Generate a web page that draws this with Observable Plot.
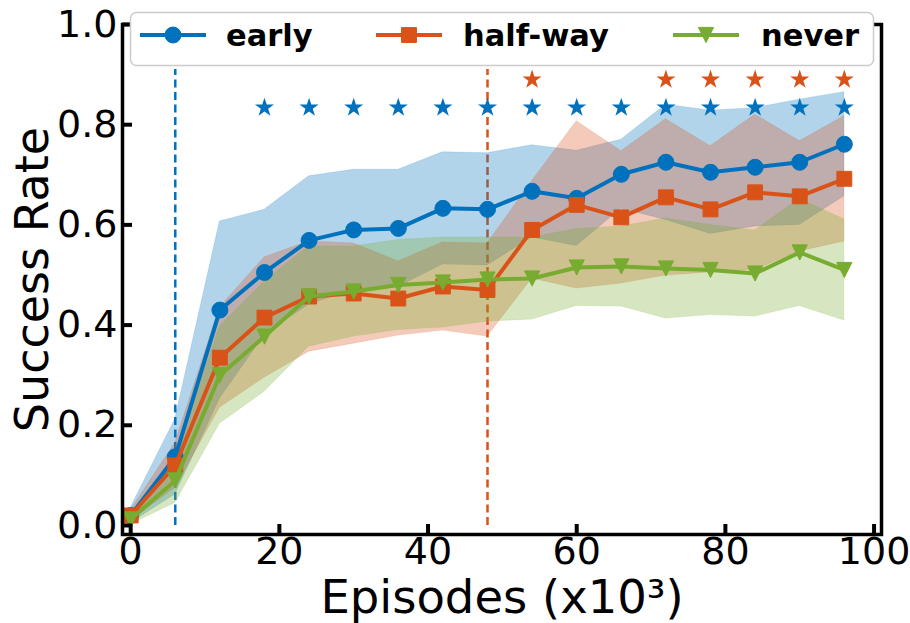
<!DOCTYPE html>
<html><head><meta charset="utf-8">
<script src="https://cdn.jsdelivr.net/npm/d3@7"></script>
<script src="https://cdn.jsdelivr.net/npm/@observablehq/plot@0.6"></script>
<style>body{margin:0;background:#fff} svg{display:block}</style>
</head><body><div id="chart"></div>
<script>
// ---- data ----
const episodes = [0, 6, 12, 18, 24, 30, 36, 42, 48, 54, 60, 66, 72, 78, 84, 90, 96];
const early    = [0.02, 0.137, 0.43, 0.505, 0.569, 0.59, 0.593, 0.633, 0.631, 0.667, 0.653, 0.701, 0.725, 0.705, 0.715, 0.725, 0.761];
const earlyStd = [0.015, 0.075, 0.177, 0.125, 0.128, 0.12, 0.117, 0.112, 0.112, 0.092, 0.095, 0.069, 0.115, 0.123, 0.118, 0.125, 0.104];
const halfway    = [0.02, 0.12, 0.335, 0.415, 0.457, 0.463, 0.453, 0.477, 0.47, 0.59, 0.64, 0.615, 0.655, 0.631, 0.665, 0.657, 0.692];
const halfwayStd = [0.01, 0.045, 0.1, 0.12, 0.11, 0.1, 0.074, 0.088, 0.093, 0.097, 0.167, 0.132, 0.156, 0.126, 0.155, 0.11, 0.125];
const never    = [0.012, 0.09, 0.30, 0.377, 0.457, 0.467, 0.48, 0.485, 0.491, 0.493, 0.515, 0.517, 0.513, 0.51, 0.503, 0.545, 0.51];
const neverStd = [0.01, 0.045, 0.097, 0.11, 0.1, 0.09, 0.09, 0.09, 0.084, 0.082, 0.077, 0.08, 0.1, 0.09, 0.086, 0.107, 0.101];

const seriesNames  = ["early", "half-way", "never"];
const seriesColors = ["#0072BD", "#D95319", "#77AC30"];

const switchEpisodes = [6, 48];          // dashed vertical lines (early, half-way)
const switchTop = 0.91;

const starsEarly = [18, 24, 30, 36, 42, 48, 54, 60, 66, 72, 78, 84, 90, 96];
const starsEarlyLevel = 0.834;
const starsHalf = [54, 72, 78, 84, 90, 96];
const starsHalfLevel = 0.89;

const xTicks = [0, 20, 40, 60, 80, 100];
const yTicks = [0, 0.2, 0.4, 0.6, 0.8, 1.0];
const xLabel = "Episodes (x10³)";
const yLabel = "Success Rate";

// ---- build tables ----
const means = [early, halfway, never];
const stds = [earlyStd, halfwayStd, neverStd];
const tables = means.map((m, s) => episodes.map((x, i) => ({
  x, y: m[i], lo: m[i] - stds[s][i], hi: m[i] + stds[s][i], series: seriesNames[s]
})));

const triangleDown = {
  draw(ctx, size) {
    const r = Math.sqrt(size / Math.PI);
    ctx.moveTo(-r, -r); ctx.lineTo(r, -r); ctx.lineTo(0, r); ctx.closePath();
  }
};
const symbols = ["circle", "square", triangleDown];
const radii = [8, 8.4, 7.6];

const marks = [];
switchEpisodes.forEach((e, i) => {
  marks.push(Plot.ruleX([e], {y1: 0, y2: switchTop, stroke: seriesColors[i], strokeWidth: 2.5, strokeDasharray: "8,4.5"}));
});
tables.forEach((t, s) => {
  marks.push(Plot.areaY(t, {x: "x", y1: "lo", y2: "hi", fill: seriesColors[s], fillOpacity: 0.3,
    stroke: seriesColors[s], strokeOpacity: 0.15, strokeWidth: 1}));
});
tables.forEach((t, s) => {
  marks.push(Plot.line(t, {x: "x", y: "y", stroke: seriesColors[s], strokeWidth: 4, strokeLinejoin: "round"}));
  marks.push(Plot.dot(t, {x: "x", y: "y", symbol: symbols[s], r: radii[s], fill: seriesColors[s], stroke: seriesColors[s], strokeWidth: 1}));
});
marks.push(Plot.dot(starsEarly, {x: d => d, y: () => starsEarlyLevel, symbol: "star", r: 6, fill: seriesColors[0]}));
marks.push(Plot.dot(starsHalf, {x: d => d, y: () => starsHalfLevel, symbol: "star", r: 6, fill: seriesColors[1]}));
marks.push(Plot.frame({stroke: "black", strokeWidth: 3.5}));
marks.push(Plot.axisX(xTicks, {tickSize: -10, tickPadding: 13, fontSize: 38, strokeWidth: 4, label: null, stroke: "black", fill: "black"}));
marks.push(Plot.axisY(yTicks, {tickSize: -10, tickPadding: 15, fontSize: 38, strokeWidth: 4, label: null, tickFormat: d => d.toFixed(1), stroke: "black", fill: "black"}));
marks.push(Plot.text([xLabel], {frameAnchor: "bottom", dy: 64, fontSize: 46.5, fill: "black", lineAnchor: "middle", textAnchor: "middle"}));
marks.push(Plot.text([yLabel], {frameAnchor: "left", dx: -89, rotate: -90, fontSize: 46, fill: "black", lineAnchor: "middle", textAnchor: "middle"}));

const chart = Plot.plot({
  width: 910, height: 623,
  marginLeft: 122, marginRight: 29, marginTop: 24, marginBottom: 89,
  x: {domain: [-1.1, 101]},
  y: {domain: [-0.018, 1.0]},
  style: {fontFamily: "DejaVu Sans", background: "white", color: "black", overflow: "visible"},
  marks
});
document.getElementById("chart").appendChild(chart);

// ---- legend (drawn on top, inside the svg) ----
const svg = d3.select(chart);
const lg = svg.append("g");
lg.append("rect").attr("x", 130.5).attr("y", 12.5).attr("width", 743).attr("height", 53).attr("rx", 6)
  .attr("fill", "white").attr("stroke", "#cccccc").attr("stroke-width", 1.5);
const slots = [{lx: 140, tx: 226}, {lx: 376, tx: 463}, {lx: 673, tx: 761}];
seriesNames.forEach((name, s) => {
  const {lx, tx} = slots[s];
  lg.append("line").attr("x1", lx).attr("x2", lx + 66).attr("y1", 35).attr("y2", 35)
    .attr("stroke", seriesColors[s]).attr("stroke-width", 4);
  const sym = typeof symbols[s] === "string" ? (symbols[s] === "circle" ? d3.symbolCircle : d3.symbolSquare) : symbols[s];
  lg.append("path").attr("transform", `translate(${lx + 33},35)`)
    .attr("d", d3.symbol(sym, Math.PI * radii[s] * radii[s])())
    .attr("fill", seriesColors[s]).attr("stroke", seriesColors[s]).attr("stroke-width", 1);
  lg.append("text").attr("x", tx).attr("y", 46).text(name)
    .attr("text-anchor", "start")
    .attr("font-family", "DejaVu Sans").attr("font-weight", "bold").attr("font-size", 30.5).attr("fill", "black");
});
</script></body></html>
